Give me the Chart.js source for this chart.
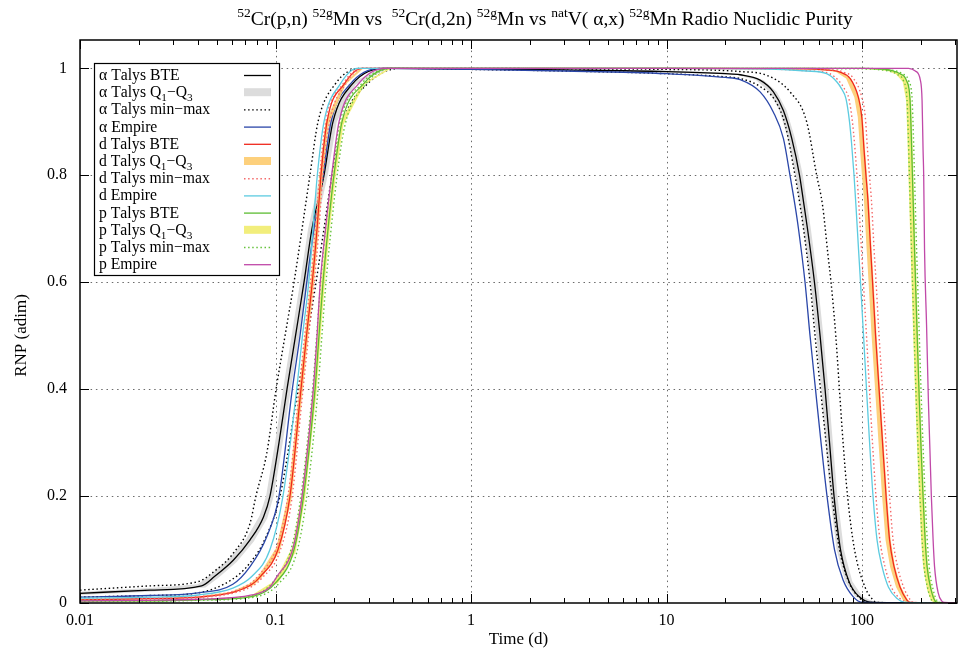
<!DOCTYPE html>
<html>
<head>
<meta charset="utf-8">
<script src="https://cdn.jsdelivr.net/npm/chart.js@4.4.1/dist/chart.umd.min.js"></script>
<style>
  html, body { margin: 0; padding: 0; background: #fff; }
  #rnpChart { display: block; }
</style>
</head>
<body>
<canvas id="rnpChart" width="958" height="655"></canvas>
<script>
// curves, [time (d), RNP]

// alpha, natV(a,x)
const alphaBTE = [[0.01,0.018],[0.0228,0.024],[0.0419,0.032],[0.0489,0.05],[0.0608,0.08],[0.0741,0.118],[0.0868,0.161],[0.0937,0.20],[0.1042,0.30],[0.1145,0.40],[0.1266,0.50],[0.1399,0.60],[0.1537,0.70],[0.177,0.80],[0.1967,0.90],[0.2462,0.97],[0.3631,1],
  [1,0.999],[3,0.997],[10,0.994],[20,0.99],[23.8,0.988],[30.1,0.978],[35.2,0.956],[39.6,0.921],[43.7,0.869],[47.9,0.80],[50.5,0.744],[52.6,0.70],[57.1,0.60],[61,0.50],[64.7,0.40],[68.2,0.30],[71.9,0.20],[77.6,0.10],[85.8,0.04],[96.5,0.012],[112.5,0.001],[306,0]];
const alphaQ3 = [[0.01,0.021],[0.0228,0.028],[0.04,0.035],[0.0467,0.053],[0.0581,0.083],[0.0708,0.12],[0.0829,0.163],[0.0895,0.20],[0.0995,0.30],[0.1093,0.40],[0.1209,0.50],[0.1336,0.60],[0.1468,0.70],[0.169,0.80],[0.1878,0.90],[0.2351,0.97],[0.3468,1],
  [1,1],[3,0.998],[10,0.996],[20,0.992],[24.8,0.988],[31.3,0.978],[36.6,0.956],[41.2,0.921],[45.4,0.869],[49.8,0.80],[52.5,0.744],[54.7,0.70],[59.4,0.60],[63.4,0.50],[67.3,0.40],[70.9,0.30],[74.8,0.20],[80.7,0.10],[89.2,0.04],[100.4,0.012],[117,0.001],[306,0]];
const alphaQ1 = [[0.01,0.015],[0.0228,0.021],[0.0438,0.029],[0.0511,0.047],[0.0635,0.077],[0.0774,0.115],[0.0907,0.158],[0.0979,0.20],[0.1089,0.30],[0.1197,0.40],[0.1323,0.50],[0.1462,0.60],[0.1606,0.70],[0.185,0.80],[0.2056,0.90],[0.2573,0.97],[0.3794,1],
  [1,0.998],[3,0.996],[10,0.992],[20,0.989],[22.7,0.988],[28.7,0.978],[33.6,0.956],[37.8,0.921],[41.7,0.869],[45.7,0.80],[48.2,0.744],[50.2,0.70],[54.5,0.60],[58.3,0.50],[61.8,0.40],[65.1,0.30],[68.7,0.20],[74.1,0.10],[81.9,0.04],[92.2,0.012],[107.4,0.001],[306,0]];
const alphaMax = [[0.01,0.024],[0.0228,0.032],[0.0402,0.040],[0.0489,0.06],[0.0608,0.093],[0.0741,0.149],[0.0794,0.20],[0.0902,0.28],[0.1007,0.40],[0.1119,0.50],[0.1244,0.60],[0.15,0.80],[0.165,0.90],[0.2014,0.97],[0.2705,1],
  [1,1],[3,0.999],[10,0.998],[23.8,0.994],[32.5,0.987],[42.8,0.956],[52.1,0.90],[58.6,0.80],[62.8,0.744],[67,0.65],[69.4,0.60],[73.4,0.50],[76.6,0.40],[80,0.30],[84.3,0.20],[91.5,0.10],[103.5,0.03],[114.3,0.005],[119.3,0.001],[306,0]];
const alphaMin = [[0.01,0.011],[0.0228,0.014],[0.0402,0.019],[0.0605,0.045],[0.0741,0.075],[0.0884,0.12],[0.1054,0.20],[0.1304,0.40],[0.1458,0.50],[0.1612,0.60],[0.177,0.70],[0.1945,0.80],[0.2214,0.90],[0.2938,0.97],[0.4335,1],
  [1,0.998],[3,0.995],[10,0.99],[20,0.984],[23.8,0.981],[30.1,0.966],[35.9,0.94],[40.4,0.895],[45.4,0.80],[48.2,0.744],[50.2,0.70],[54.2,0.60],[57.5,0.50],[61.3,0.40],[65.5,0.30],[70.2,0.20],[76.7,0.10],[84.8,0.043],[95.4,0.012],[107.3,0.001],[306,0]];
const alphaEmpire = [[0.01,0.011],[0.0228,0.014],[0.0402,0.019],[0.0605,0.035],[0.0741,0.068],[0.0902,0.124],[0.1042,0.20],[0.1219,0.40],[0.1335,0.50],[0.1445,0.60],[0.1574,0.70],[0.175,0.80],[0.1923,0.90],[0.2404,0.97],[0.3424,1],
  [1,0.998],[3,0.995],[10,0.99],[20,0.983],[23.8,0.979],[30.1,0.956],[35.2,0.918],[39.6,0.869],[42.8,0.80],[45.4,0.744],[47.3,0.70],[51.1,0.60],[54.2,0.50],[57.8,0.40],[61.7,0.30],[66.2,0.20],[72.3,0.10],[80,0.043],[90,0.012],[101,0.001],[306,0]];

// deuteron, 52Cr(d,2n)
const dBTE = [[0.01,0.006],[0.0228,0.008],[0.0402,0.011],[0.0605,0.02],[0.0758,0.035],[0.0834,0.049],[0.103,0.10],[0.1186,0.20],[0.135,0.40],[0.1441,0.50],[0.1542,0.60],[0.1631,0.70],[0.1708,0.80],[0.1834,0.90],[0.224,0.97],[0.2768,1],
  [10,1],[50,0.999],[65,0.997],[77.1,0.993],[86.9,0.981],[95.7,0.946],[99.7,0.909],[102.4,0.847],[104.7,0.80],[107.2,0.753],[110.7,0.66],[113.2,0.60],[117.3,0.50],[122.2,0.40],[127.3,0.30],[132.7,0.20],[138.3,0.118],[145.8,0.068],[156.4,0.03],[169.3,0.006],[176.1,0.001],[306,0]];
const dQ3 = [[0.01,0.007],[0.0228,0.009],[0.0402,0.012],[0.0594,0.021],[0.0744,0.037],[0.0819,0.051],[0.1011,0.104],[0.1165,0.205],[0.1326,0.405],[0.1415,0.505],[0.1514,0.605],[0.1602,0.705],[0.1677,0.80],[0.1802,0.90],[0.22,0.97],[0.2718,1],
  [10,1],[50,1],[65,0.998],[78,0.993],[87.9,0.981],[96.8,0.946],[100.9,0.909],[103.6,0.847],[106,0.80],[108.5,0.753],[112,0.66],[114.6,0.60],[118.7,0.50],[123.7,0.40],[128.8,0.30],[134.3,0.20],[140,0.118],[147.5,0.068],[158.3,0.03],[171.3,0.006],[178.2,0.001],[306,0]];
const dQ1 = [[0.01,0.005],[0.0228,0.007],[0.0402,0.010],[0.0616,0.019],[0.0772,0.033],[0.0849,0.047],[0.1049,0.096],[0.1207,0.195],[0.1374,0.395],[0.1467,0.495],[0.157,0.595],[0.166,0.695],[0.1739,0.795],[0.1867,0.895],[0.228,0.97],[0.2818,1],
  [10,1],[50,0.999],[65,0.996],[73.6,0.993],[82.9,0.981],[91.3,0.946],[95.1,0.909],[97.7,0.847],[99.9,0.80],[102.3,0.753],[105.6,0.66],[108,0.60],[111.9,0.50],[116.6,0.40],[121.4,0.30],[126.6,0.20],[131.9,0.118],[139.1,0.068],[149.2,0.03],[161.5,0.006],[168,0.001],[306,0]];
const dMax = [[0.01,0.007],[0.0228,0.009],[0.0402,0.012],[0.0596,0.021],[0.0747,0.037],[0.0821,0.052],[0.1015,0.105],[0.1168,0.21],[0.133,0.41],[0.1419,0.51],[0.1519,0.61],[0.1607,0.71],[0.1682,0.80],[0.1807,0.90],[0.2206,0.97],[0.2727,1],
  [10,1],[50,1],[65,0.998],[80.3,0.993],[90.5,0.981],[99.7,0.946],[103.9,0.909],[106.7,0.847],[109.1,0.80],[111.7,0.753],[115.3,0.66],[118,0.60],[122.2,0.50],[127.3,0.40],[132.6,0.30],[138.3,0.20],[144.1,0.118],[151.9,0.068],[163,0.03],[176.4,0.006],[183.5,0.001],[306,0]];
const dMin = [[0.01,0.005],[0.0228,0.007],[0.0402,0.010],[0.0616,0.019],[0.0772,0.033],[0.0849,0.046],[0.1049,0.095],[0.1207,0.19],[0.1374,0.39],[0.1467,0.49],[0.157,0.59],[0.166,0.69],[0.1739,0.79],[0.1868,0.89],[0.228,0.97],[0.2818,1],
  [10,1],[30,0.999],[54,0.995],[68.2,0.99],[76.8,0.975],[81.2,0.962],[85.7,0.943],[89.3,0.90],[91.5,0.86],[94.2,0.80],[96.5,0.74],[99.4,0.66],[101.6,0.60],[105.4,0.50],[109.1,0.40],[113.1,0.30],[117.8,0.20],[123.5,0.118],[131,0.068],[141.2,0.03],[155.7,0.009],[175.2,0.001],[306,0]];
const dEmpire = [[0.01,0.009],[0.0228,0.011],[0.0402,0.015],[0.0605,0.028],[0.0758,0.05],[0.0937,0.10],[0.1092,0.20],[0.1284,0.40],[0.1374,0.50],[0.1479,0.60],[0.1555,0.70],[0.1636,0.80],[0.177,0.90],[0.2138,0.97],[0.2612,1],
  [10,1],[30,0.999],[52.1,0.995],[65.9,0.99],[74.2,0.975],[78.5,0.962],[82.8,0.943],[86.3,0.90],[88.4,0.86],[91,0.80],[93.2,0.74],[96,0.66],[98.2,0.60],[101.8,0.50],[105.4,0.40],[109.3,0.30],[113.8,0.20],[119.3,0.118],[126.6,0.068],[136.4,0.03],[150.4,0.009],[169.3,0.001],[306,0]];

// proton, 52Cr(p,n)
const pBTE = [[0.01,0.004],[0.0228,0.004],[0.0402,0.006],[0.0758,0.012],[0.1014,0.04],[0.1244,0.10],[0.1391,0.20],[0.1593,0.40],[0.1669,0.50],[0.175,0.60],[0.1857,0.70],[0.199,0.80],[0.2188,0.90],[0.2803,0.97],[0.3854,1],
  [10,1],[100,1],[130,0.998],[141.9,0.996],[156.4,0.99],[169.3,0.976],[176.1,0.94],[178.5,0.878],[181,0.80],[185.6,0.66],[190.7,0.52],[196.2,0.38],[200.4,0.29],[205.1,0.20],[210.1,0.12],[215.1,0.068],[225.4,0.025],[236.2,0.004],[244.7,0.001],[306,0]];
const pQ3 = [[0.01,0.005],[0.0228,0.005],[0.0402,0.007],[0.0744,0.013],[0.0996,0.042],[0.1222,0.105],[0.1366,0.205],[0.1564,0.405],[0.1639,0.505],[0.1719,0.605],[0.1824,0.705],[0.1954,0.80],[0.2149,0.90],[0.2753,0.97],[0.3785,1],
  [10,1],[100,1],[131.6,0.998],[143.6,0.996],[158.3,0.99],[171.3,0.976],[178.2,0.94],[180.6,0.878],[183.2,0.80],[187.8,0.66],[193,0.52],[198.6,0.38],[202.8,0.29],[207.6,0.20],[212.6,0.12],[217.7,0.068],[228.1,0.025],[239,0.004],[247.6,0.001],[306,0]];
const pQ1 = [[0.01,0.003],[0.0228,0.003],[0.0402,0.005],[0.0772,0.011],[0.1032,0.038],[0.1266,0.095],[0.1416,0.195],[0.1622,0.395],[0.1699,0.495],[0.1782,0.595],[0.189,0.695],[0.2026,0.795],[0.2227,0.895],[0.2853,0.97],[0.3923,1],
  [10,1],[100,0.999],[124,0.997],[135.4,0.995],[149.2,0.989],[161.5,0.975],[168,0.94],[170.3,0.878],[172.7,0.80],[177.1,0.66],[181.9,0.52],[187.2,0.38],[191.2,0.29],[195.7,0.20],[200.4,0.12],[205.2,0.068],[215,0.025],[225.3,0.004],[233.4,0.001],[306,0]];
const pMax = [[0.01,0.005],[0.0228,0.005],[0.0402,0.007],[0.0741,0.013],[0.0991,0.043],[0.1215,0.107],[0.1359,0.21],[0.1556,0.41],[0.1631,0.51],[0.171,0.61],[0.1814,0.71],[0.1944,0.80],[0.2138,0.90],[0.2739,0.97],[0.3765,1],
  [10,1],[100,1],[133.3,0.998],[145.4,0.996],[160.3,0.99],[173.5,0.976],[180.5,0.94],[183,0.878],[185.5,0.80],[190.2,0.66],[195.5,0.52],[201.1,0.38],[205.4,0.29],[210.2,0.20],[215.4,0.12],[220.5,0.068],[231,0.025],[242.1,0.004],[250.8,0.001],[306,0]];
const pMin = [[0.01,0.003],[0.0228,0.003],[0.0402,0.005],[0.0781,0.011],[0.1044,0.037],[0.1281,0.093],[0.1433,0.19],[0.1641,0.39],[0.1719,0.49],[0.1803,0.59],[0.1913,0.69],[0.205,0.79],[0.2254,0.89],[0.2887,0.97],[0.397,1],
  [10,1],[100,0.999],[125.5,0.997],[136.9,0.995],[150.9,0.989],[163.4,0.975],[169.9,0.94],[172.3,0.878],[174.7,0.80],[179.1,0.66],[184,0.52],[189.3,0.38],[193.4,0.29],[197.9,0.20],[202.7,0.12],[207.6,0.068],[217.5,0.025],[227.9,0.004],[236.1,0.001],[306,0]];
const pEmpire = [[0.01,0.004],[0.0228,0.005],[0.0402,0.007],[0.0758,0.015],[0.0937,0.03],[0.1014,0.049],[0.1233,0.105],[0.1367,0.20],[0.1561,0.40],[0.1631,0.50],[0.1694,0.60],[0.1803,0.70],[0.1937,0.80],[0.2113,0.90],[0.2643,0.97],[0.3631,1],
  [10,1],[100,1],[173,1],[187.3,0.995],[198.7,0.978],[202.8,0.94],[205.2,0.847],[206.7,0.80],[208.8,0.66],[213.8,0.52],[218.4,0.38],[222.3,0.29],[226.2,0.20],[230.8,0.12],[234.9,0.068],[244.8,0.02],[256.6,0.003],[264,0.001],[306,0]];

const xDecades = [0.01, 0.1, 1, 10, 100];
const xTickLabels = ['0.01', '0.1', '1', '10', '100'];
const yTicks = [0, 0.2, 0.4, 0.6, 0.8, 1];
const yTickLabels = ['0', '0.2', '0.4', '0.6', '0.8', '1'];

const legendLabels = [
  'α Talys BTE', 'α Talys Q₁−Q₃', 'α Talys min−max', 'α Empire',
  'd Talys BTE', 'd Talys Q₁−Q₃', 'd Talys min−max', 'd Empire',
  'p Talys BTE', 'p Talys Q₁−Q₃', 'p Talys min−max', 'p Empire'
];
const titleParts = [
  ['52', 'sup'], ['Cr(p,n) ', ''], ['52g', 'sup'], ['Mn vs  ', ''],
  ['52', 'sup'], ['Cr(d,2n) ', ''], ['52g', 'sup'], ['Mn vs ', ''],
  ['nat', 'sup'], ['V( α,x) ', ''], ['52g', 'sup'], ['Mn Radio Nuclidic Purity', '']
];

// ---- styling ----
const SERIF = "'Liberation Serif', 'Times New Roman', serif";
const C = {
  black: '#000000', grey: '#dcdcdc', blue: '#2a46a8',
  red: '#f0281c', orange: '#fdd07c', redDot: '#f46a6a', cyan: '#5ccbe0',
  green: '#5cbc32', yellow: '#f2ee7c', greenDot: '#66c23c', magenta: '#c048a8'
};
// legend samples, same order as legendLabels
const legendKeys = [
  [C.black, 'line'], [C.grey, 'band'], [C.black, 'dots'], [C.blue, 'line'],
  [C.red, 'line'], [C.orange, 'band'], [C.redDot, 'dots'], [C.cyan, 'line'],
  [C.green, 'line'], [C.yellow, 'band'], [C.greenDot, 'dots'], [C.magenta, 'line']
];

function line(data, color) {
  return { data, borderColor: color, borderWidth: 1.3, pointRadius: 0, fill: false,
    cubicInterpolationMode: 'monotone' };
}
function dots(data, color) {
  return { data, borderColor: color, borderWidth: 1.4, borderDash: [1.5, 2.6], pointRadius: 0,
    fill: false, cubicInterpolationMode: 'monotone' };
}
function band(upper, lower, color) {
  return { data: upper.concat(lower.slice().reverse()), borderColor: 'rgba(0,0,0,0)', borderWidth: 0,
    backgroundColor: color, pointRadius: 0, fill: 'shape', tension: 0 };
}

const datasets = [
  band(alphaQ3, alphaQ1, C.grey), line(alphaBTE, C.black), dots(alphaMax, C.black), dots(alphaMin, C.black), line(alphaEmpire, C.blue),
  band(dQ3, dQ1, C.orange), line(dBTE, C.red), dots(dMax, C.redDot), dots(dMin, C.redDot), line(dEmpire, C.cyan),
  band(pQ3, pQ1, C.yellow), line(pBTE, C.green), dots(pMax, C.greenDot), dots(pMin, C.greenDot), line(pEmpire, C.magenta)
];
datasets.forEach((d, i) => { d.order = datasets.length - i; });

const xTicks = [];
xDecades.forEach(d => { for (let k = 1; k <= 9; k++) if (d * k <= 306) xTicks.push(d * k); });
const isDecade = v => xDecades.some(d => Math.abs(v - d) < d * 1e-6);

// text with subscript digits
function drawRich(ctx, text, x, y, size) {
  for (const ch of text) {
    const sub = ch === '₁' || ch === '₃';
    const s = sub ? (ch === '₁' ? '1' : '3') : ch;
    ctx.font = (sub ? size * 0.72 : size) + 'px ' + SERIF;
    ctx.fillText(s, x, sub ? y + 4 : y);
    x += ctx.measureText(s).width;
  }
}

const frame = {
  id: 'frame',
  beforeDraw(chart) {
    const ctx = chart.ctx;
    ctx.save();
    ctx.fillStyle = '#fff';
    ctx.fillRect(0, 0, chart.width, chart.height);
    ctx.restore();
  },
  beforeDatasetsDraw(chart) {
    const { ctx, chartArea: a, scales: { x, y } } = chart;
    ctx.save();
    ctx.strokeStyle = '#6a6a6a';
    ctx.lineWidth = 1;
    ctx.setLineDash([1.5, 3.8]);
    xDecades.slice(1).forEach(v => {
      const px = Math.round(x.getPixelForValue(v)) + 0.5;
      ctx.beginPath(); ctx.moveTo(px, a.top); ctx.lineTo(px, a.bottom); ctx.stroke();
    });
    yTicks.slice(1).forEach(v => {
      const py = Math.round(y.getPixelForValue(v)) + 0.5;
      ctx.beginPath(); ctx.moveTo(a.left, py); ctx.lineTo(a.right, py); ctx.stroke();
    });
    ctx.restore();
  },
  afterDatasetsDraw(chart) {
    const { ctx, chartArea: a, scales: { x, y } } = chart;
    ctx.save();
    ctx.setLineDash([]);
    ctx.strokeStyle = '#000';
    ctx.lineWidth = 1;
    xTicks.forEach(v => {
      const px = Math.round(x.getPixelForValue(v)) + 0.5;
      const len = isDecade(v) ? 9 : 5;
      ctx.beginPath();
      ctx.moveTo(px, a.bottom); ctx.lineTo(px, a.bottom - len);
      ctx.moveTo(px, a.top); ctx.lineTo(px, a.top + len);
      ctx.stroke();
    });
    yTicks.forEach(v => {
      const py = Math.round(y.getPixelForValue(v)) + 0.5;
      ctx.beginPath();
      ctx.moveTo(a.left, py); ctx.lineTo(a.left + 9, py);
      ctx.moveTo(a.right, py); ctx.lineTo(a.right - 9, py);
      ctx.stroke();
    });
    ctx.lineWidth = 1.5;
    ctx.strokeRect(a.left, a.top, a.right - a.left, a.bottom - a.top);

    // key box
    const bx = 94, by = 63, bw = 185, bh = 212;
    ctx.fillStyle = '#fff';
    ctx.fillRect(bx, by, bw, bh);
    ctx.lineWidth = 1.2;
    ctx.strokeRect(bx + 0.5, by + 0.5, bw, bh);
    ctx.textBaseline = 'alphabetic';
    ctx.textAlign = 'left';
    legendLabels.forEach((txt, i) => {
      const cy = 75 + i * 17.2;
      ctx.fillStyle = '#000';
      drawRich(ctx, txt, 99, cy + 5, 15.7);
      const [col, kind] = legendKeys[i];
      if (kind === 'band') {
        ctx.fillStyle = col;
        ctx.fillRect(244, cy - 4, 27, 8);
      } else {
        ctx.strokeStyle = col;
        ctx.lineWidth = kind === 'dots' ? 1.4 : 1.3;
        ctx.setLineDash(kind === 'dots' ? [1.5, 2.6] : []);
        ctx.beginPath(); ctx.moveTo(244, cy + 0.5); ctx.lineTo(271, cy + 0.5); ctx.stroke();
        ctx.setLineDash([]);
      }
    });

    // title
    ctx.fillStyle = '#000';
    const big = 19.5, small = 13.5;
    let tw = 0;
    titleParts.forEach(([s, k]) => {
      ctx.font = (k ? small : big) + 'px ' + SERIF;
      tw += ctx.measureText(s).width;
    });
    let tx = 545 - tw / 2;
    titleParts.forEach(([s, k]) => {
      ctx.font = (k ? small : big) + 'px ' + SERIF;
      ctx.fillText(s, tx, k ? 17 : 25);
      tx += ctx.measureText(s).width;
    });

    // axis titles
    ctx.font = '17px ' + SERIF;
    ctx.textAlign = 'center';
    ctx.fillText('Time (d)', (a.left + a.right) / 2, 644);
    ctx.translate(26, (a.top + a.bottom) / 2 + 14);
    ctx.rotate(-Math.PI / 2);
    ctx.fillText('RNP (adim)', 0, 0);
    ctx.restore();
  }
};

new Chart(document.getElementById('rnpChart'), {
  type: 'line',
  data: { datasets },
  options: {
    responsive: false,
    animation: false,
    devicePixelRatio: 1,
    events: [],
    layout: { padding: { top: 40, right: 1, left: 0, bottom: 0 } },
    plugins: { legend: { display: false }, tooltip: { enabled: false }, title: { display: false } },
    scales: {
      x: {
        type: 'logarithmic', min: 0.01, max: 306,
        afterBuildTicks: s => { s.ticks = xTicks.map(v => ({ value: v })); },
        afterFit: s => { s.height = 52; s.paddingLeft = 0; s.paddingRight = 0; },
        grid: { display: false, drawTicks: false },
        border: { display: false },
        ticks: {
          autoSkip: false, maxRotation: 0, padding: 8, color: '#000',
          font: { family: SERIF, size: 16 },
          callback: v => { const i = xDecades.findIndex(d => Math.abs(v - d) < d * 1e-6); return i < 0 ? '' : xTickLabels[i]; }
        }
      },
      y: {
        min: 0, max: 1.053,
        afterBuildTicks: s => { s.ticks = yTicks.map(v => ({ value: v })); },
        afterFit: s => { s.width = 80; s.paddingTop = 0; s.paddingBottom = 0; },
        grid: { display: false, drawTicks: false },
        border: { display: false },
        ticks: {
          padding: 13, color: '#000',
          font: { family: SERIF, size: 16 },
          callback: v => { const i = yTicks.findIndex(t => Math.abs(t - v) < 1e-6); return i < 0 ? '' : yTickLabels[i]; }
        }
      }
    }
  },
  plugins: [frame]
});
</script>
</body>
</html>
